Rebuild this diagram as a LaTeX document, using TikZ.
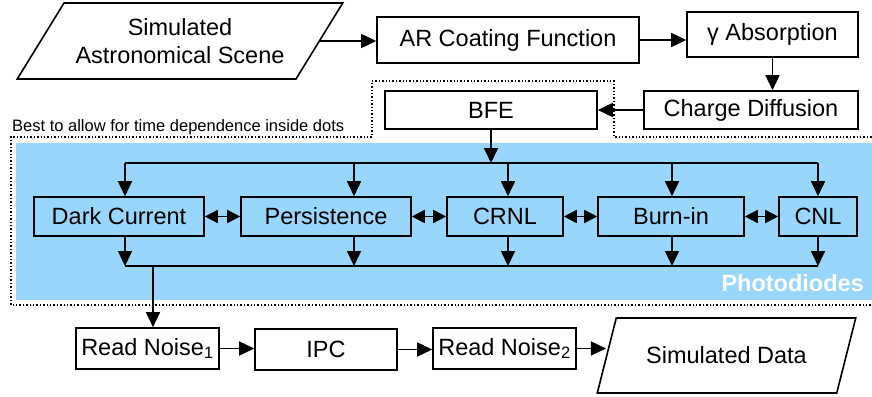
\documentclass[tikz,border=0pt]{standalone}
\usepackage{fontspec}
\setmainfont{Liberation Sans}
\usetikzlibrary{arrows.meta,shapes.geometric}

\definecolor{diodeblue}{RGB}{152,214,252}
\newcommand{\mainsize}{\fontsize{23.5}{28}\selectfont}
\newcommand{\notesize}{\fontsize{16.5}{19}\selectfont}

\begin{document}
\begin{tikzpicture}[x=1pt,y=-1pt,font=\mainsize,
  box/.style={draw,line width=1.6pt,inner sep=1pt},
  io/.style={draw,line width=1.6pt,trapezium,trapezium stretches=true,inner sep=1pt,align=center},
  arr/.style={line width=1.6pt,-{Triangle[length=15pt,width=14pt]}},
  dblarr/.style={line width=1.6pt,{Triangle[length=13pt,width=13pt]}-{Triangle[length=13pt,width=13pt]}},
  bus/.style={line width=1.6pt}]
\useasboundingbox (0,0) rectangle (872,396);
\clip (0,0) rectangle (872,396);

% photodiode area and the dotted time-dependence border
\fill[diodeblue] (16,143) rectangle (872,300);
\draw[dotted,line width=1.4pt] (372,81) -- (614,81) -- (614,137) -- (880,137) -- (880,305)
  -- (11,305) -- (11,137) -- (372,137) -- cycle;
\node[anchor=base west,inner sep=0pt,font=\notesize] (note) at (12,131) {Best to allow for time dependence inside dots};
\node[anchor=east,inner sep=0pt,text=white,font=\mainsize\bfseries] (pdlabel) at (864,283) {Photodiodes};

% top chain
\node[io,trapezium left angle=48,trapezium right angle=132,minimum width=326pt,minimum height=76pt] (scene) at (180,41) {Simulated\\Astronomical Scene};
\node[box,minimum width=262pt,minimum height=46pt] (ar) at (508,40) {AR Coating Function};
\node[box,minimum width=171pt,minimum height=45pt] (gamma) at (772.5,34.5) {γ Absorption};
\node[box,minimum width=214pt,minimum height=38pt] (charge) at (751,110) {Charge Diffusion};
\node[box,minimum width=212pt,minimum height=38pt] (bfe) at (491,110) {BFE};

% photodiode effects
\node[box,minimum width=170pt,minimum height=39pt] (dark) at (119,216.5) {Dark Current};
\node[box,minimum width=170pt,minimum height=39pt] (pers) at (326,216.5) {Persistence};
\node[box,minimum width=116pt,minimum height=39pt] (crnl) at (505,216.5) {CRNL};
\node[box,minimum width=146pt,minimum height=39pt] (burn) at (671,216.5) {Burn-in};
\node[box,minimum width=78pt,minimum height=39pt] (cnl) at (818,216.5) {CNL};

% readout chain
\node[box,minimum width=143pt,minimum height=41pt] (rn1) at (147.5,348.5) {Read Noise\textsubscript{1}};
\node[box,minimum width=142pt,minimum height=41pt] (ipc) at (326,349.5) {IPC};
\node[box,minimum width=143pt,minimum height=41pt] (rn2) at (504.5,348.5) {Read Noise\textsubscript{2}};
\node[io,trapezium left angle=54,trapezium right angle=126,minimum width=259pt,minimum height=75pt] (data) at (726.5,355.5) {Simulated Data};

\coordinate (tl) at (125,163);
\coordinate (tr) at (818,163);
\coordinate (bl) at (125,266);
\coordinate (br) at (818,266);
\coordinate (out) at (153,266);

\draw[arr] (scene.east) -- (scene.east -| ar.west);
\draw[arr] (ar.east) -- (ar.east -| gamma.west);
\draw[arr] (gamma.south) -- (gamma.south |- charge.north);
\draw[arr] (charge.west) -- (bfe.east);

\draw[arr] (bfe.south) -- (bfe.south |- tl);
\draw[bus] (tl) -- (tr);
\draw[bus] (bl) -- (br);
\foreach \n/\x in {dark/125,pers/354,crnl/508,burn/672,cnl/818} {
  \draw[arr] (\x,163) -- (\x,163 |- \n.north);
  \draw[arr] (\x,163 |- \n.south) -- (\x,266);
}
\draw[dblarr] (dark.east) -- (pers.west);
\draw[dblarr] (pers.east) -- (crnl.west);
\draw[dblarr] (crnl.east) -- (burn.west);
\draw[dblarr] (burn.east) -- (cnl.west);

\draw[arr] (out) -- (out |- rn1.north);
\draw[arr] (rn1.east) -- (rn1.east -| ipc.west);
\draw[arr] (ipc.east) -- (ipc.east -| rn2.west);
\draw[arr] (rn2.east) -- (rn2.east -| data.west);
\end{tikzpicture}
\end{document}
